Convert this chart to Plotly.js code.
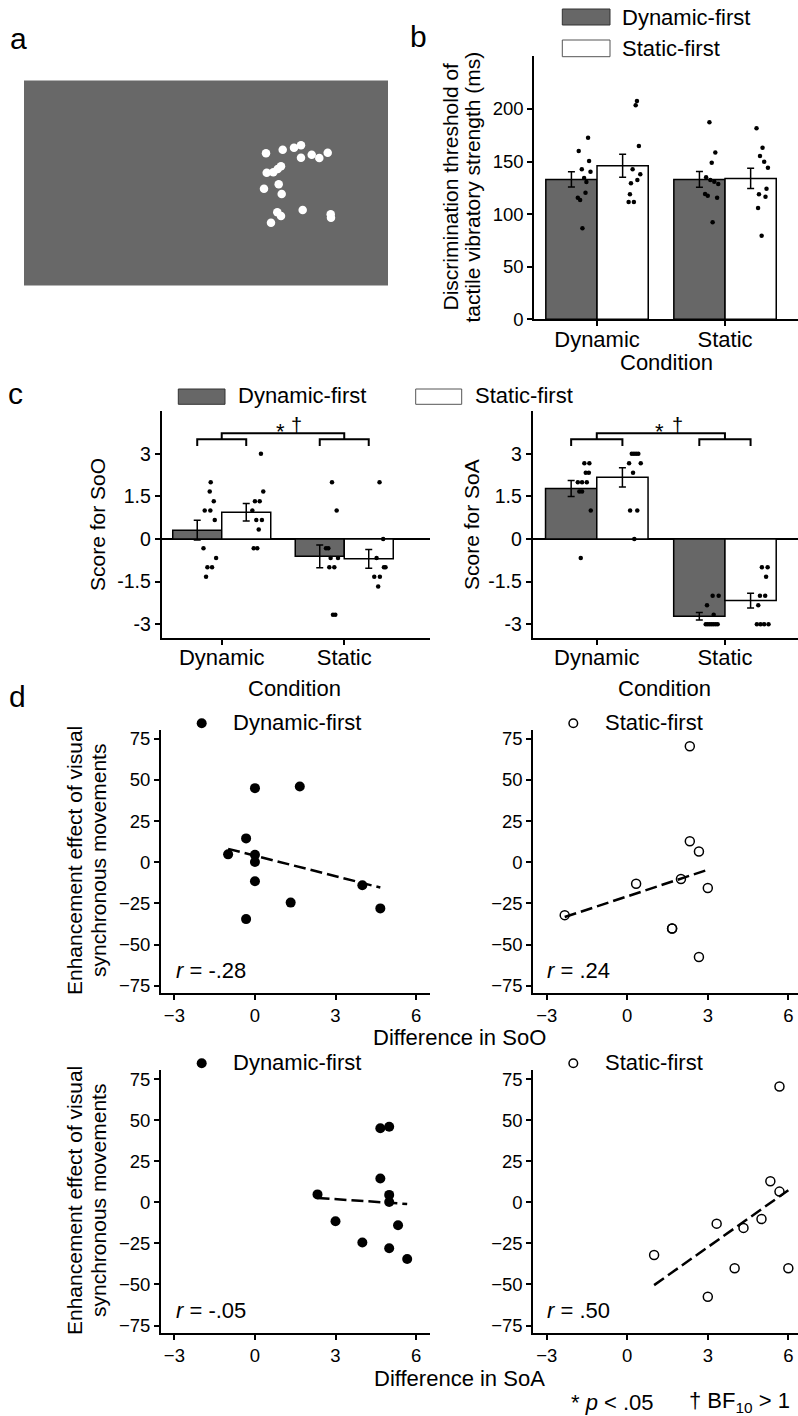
<!DOCTYPE html>
<html><head><meta charset="utf-8">
<script src="https://cdn.plot.ly/plotly-3.0.1.min.js"></script>
<style>html,body{margin:0;padding:0;background:#fff;}#chart{width:798px;height:1416px;}</style>
</head><body><div id="chart"></div>
<script>
// ---------------- DATA ----------------
const conditions = ['Dynamic', 'Static'];
const groupNames = ['Dynamic-first', 'Static-first'];

// Panel a: stimulus dot positions (stimulus frame units, origin top-left)
const stimDotX = [242,258.7,270,277,277,287.7,295.3,303.7,242.7,249.3,253.7,257,240,254.7,257.7,253.3,257,247,278.7,306.7,307];
const stimDotY = [72.8,69.2,67.2,64.8,77.2,74.2,77.5,72.2,92.2,91.8,88.5,85.8,108.2,103.8,113.5,131.8,135.5,142.2,129.5,133.8,137.2];

// Panel b: discrimination threshold (ms)
const thrMeanDynFirst = [133, 133];
const thrSeDynFirst = [7.3, 7.5];
const thrMeanStaFirst = [146, 134];
const thrSeStaFirst = [11, 9.7];
const thrDynFirstDynamic = [172.7,160,150.5,142.6,140.4,134.4,130.6,120.4,115.7,113.5,86.5];
const thrDynFirstDynamicJit = [-0.07,-0.143,-0.062,-0.119,-0.051,-0.101,-0.083,-0.09,-0.15,-0.132,-0.114];
const thrStaFirstDynamic = [207.6,203.5,164.8,142.6,137.9,132.5,129.3,118.9,111.6,111.6];
const thrStaFirstDynamicJit = [0.312,0.302,0.327,0.278,0.338,0.315,0.265,0.257,0.247,0.288];
const thrDynFirstStatic = [187.3,158.5,148.9,135,132.5,130.9,128.7,119.2,117.6,115.7,92.2];
const thrDynFirstStaticJit = [-0.122,-0.076,-0.104,-0.148,-0.115,-0.084,-0.053,-0.156,-0.135,-0.062,-0.097];
const thrStaFirstStatic = [181.6,163.2,155.3,149.9,144.2,124.2,118.9,116.6,105.8,79.5];
const thrStaFirstStaticJit = [0.246,0.293,0.273,0.306,0.335,0.324,0.265,0.316,0.258,0.286];

// Panel c: Score for SoO
const sooMeanDynFirst = [0.31, -0.61];
const sooSeDynFirst = [0.35, 0.4];
const sooMeanStaFirst = [0.94, -0.7];
const sooSeStaFirst = [0.31, 0.33];
const sooDynFirstDynamic = [2,1.67,1.33,1,1,0.67,-0.33,-0.67,-1,-1,-1.33];
const sooDynFirstDynamicJit = [-0.09,-0.098,-0.065,-0.139,-0.093,-0.057,-0.149,-0.046,-0.117,-0.079,-0.128];
const sooStaFirstDynamic = [3,1.67,1.33,1.33,1,0.67,0.67,0.33,-0.33,-0.33];
const sooStaFirstDynamicJit = [0.32,0.339,0.271,0.31,0.25,0.282,0.328,0.302,0.261,0.29];
const sooDynFirstStatic = [2,1,-0.33,-0.33,-0.67,-0.67,-1,-1,-2.67,-2.67];
const sooDynFirstStaticJit = [-0.1,-0.062,-0.149,-0.13,-0.111,-0.051,-0.122,-0.081,-0.092,-0.073];
const sooStaFirstStatic = [2,0,-0.67,-1,-1,-1.33,-1.33,-1.67];
const sooStaFirstStaticJit = [0.288,0.318,0.264,0.324,0.337,0.245,0.291,0.277];

// Panel c: Score for SoA
const soaMeanDynFirst = [1.78, -2.72];
const soaSeDynFirst = [0.28, 0.13];
const soaMeanStaFirst = [2.17, -2.17];
const soaSeStaFirst = [0.34, 0.26];
const soaDynFirstDynamic = [2.67,2.67,2.33,2.33,2,2,2,1.67,1.67,1,-0.67];
const soaDynFirstDynamicJit = [-0.097,-0.058,-0.086,-0.062,-0.148,-0.115,-0.078,-0.136,-0.115,-0.047,-0.125];
const soaStaFirstDynamic = [3,3,3,3,2.67,2.67,2.33,1,1,0];
const soaStaFirstDynamicJit = [0.273,0.29,0.307,0.324,0.252,0.343,0.283,0.26,0.316,0.293];
const soaDynFirstStatic = [-2,-2,-2.33,-2.67,-3,-3,-3,-3,-3,-3,-3];
const soaDynFirstStaticJit = [-0.096,-0.049,-0.14,-0.088,-0.15,-0.135,-0.12,-0.105,-0.09,-0.073,-0.057];
const soaStaFirstStatic = [-1,-1,-1.33,-2,-2,-2.33,-3,-3,-3,-3];
const soaStaFirstStaticJit = [0.288,0.333,0.321,0.273,0.314,0.26,0.249,0.278,0.306,0.34];

// Panel d: enhancement effect vs. differences
const enhDynFirst = [45,46,14.5,4.8,4.5,0.2,-11.5,-24.5,-34.5,-14,-28];
const diffSoODynFirst = [0,1.67,-0.33,-1,0,0,0,1.33,-0.33,4,4.67];
const diffSoADynFirst = [4.67,5,4.67,2.33,5,5,3,4,5.67,5.33,5];
const enhStaFirst = [70.5,12.8,6.5,-13,-10.2,-15.6,-32.1,-40.2,-40.2,-57.5];
const diffSoOStaFirst = [2.33,2.33,2.67,0.33,2,3,-2.33,1.67,1.67,2.67];
const diffSoAStaFirst = [5.67,5.33,5.67,3.33,5,4.33,1,4,6,3];
const rLabels = ['-.28', '.24', '-.05', '.50'];

// ---------------- HELPERS ----------------
const W = 798, H = 1416;
const FONT = 'Liberation Sans, Arial, Helvetica, sans-serif';
const DARK = '#676767';
const fx = p => p / W;
const fy = p => 1 - p / H;
const domX = (a, b) => [fx(a), fx(b)];
const domY = (top, bottom) => [fy(bottom), fy(top)];

function ols(xs, ys) {
  const n = xs.length;
  const mx = xs.reduce((a, b) => a + b, 0) / n;
  const my = ys.reduce((a, b) => a + b, 0) / n;
  let sxy = 0, sxx = 0;
  for (let i = 0; i < n; i++) { sxy += (xs[i] - mx) * (ys[i] - my); sxx += (xs[i] - mx) ** 2; }
  const b = sxy / sxx, a = my - b * mx;
  const x0 = Math.min(...xs), x1 = Math.max(...xs);
  return { x: [x0, x1], y: [a + b * x0, a + b * x1] };
}
const shift = (jit, c) => jit.map(j => c + j);

const traces = [];

// Panel a
traces.push({ type: 'scatter', mode: 'markers', x: stimDotX, y: stimDotY, xaxis: 'x', yaxis: 'y',
  marker: { color: '#ffffff', size: 8.5 }, hoverinfo: 'skip' });

// bar panels
function barPanel(xa, ya, mDyn, sDyn, mSta, sSta, pts) {
  const eb = { type: 'data', color: '#000', thickness: 1.5, width: 3.5 };
  traces.push({ type: 'bar', x: [0, 1], y: mDyn, xaxis: xa, yaxis: ya, name: groupNames[0],
    marker: { color: DARK, line: { color: '#000', width: 1.5 } }, error_y: Object.assign({ array: sDyn }, eb) });
  traces.push({ type: 'bar', x: [0, 1], y: mSta, xaxis: xa, yaxis: ya, name: groupNames[1],
    marker: { color: '#ffffff', line: { color: '#000', width: 1.5 } }, error_y: Object.assign({ array: sSta }, eb) });
  pts.forEach(p => {
    traces.push({ type: 'scatter', mode: 'markers', x: shift(p[1], p[2]), y: p[0], xaxis: xa, yaxis: ya,
      marker: { color: '#000', size: 4.5 }, hoverinfo: 'skip' });
  });
}
barPanel('x2', 'y2', thrMeanDynFirst, thrSeDynFirst, thrMeanStaFirst, thrSeStaFirst, [
  [thrDynFirstDynamic, thrDynFirstDynamicJit, 0], [thrStaFirstDynamic, thrStaFirstDynamicJit, 0],
  [thrDynFirstStatic, thrDynFirstStaticJit, 1], [thrStaFirstStatic, thrStaFirstStaticJit, 1]]);
barPanel('x3', 'y3', sooMeanDynFirst, sooSeDynFirst, sooMeanStaFirst, sooSeStaFirst, [
  [sooDynFirstDynamic, sooDynFirstDynamicJit, 0], [sooStaFirstDynamic, sooStaFirstDynamicJit, 0],
  [sooDynFirstStatic, sooDynFirstStaticJit, 1], [sooStaFirstStatic, sooStaFirstStaticJit, 1]]);
barPanel('x4', 'y4', soaMeanDynFirst, soaSeDynFirst, soaMeanStaFirst, soaSeStaFirst, [
  [soaDynFirstDynamic, soaDynFirstDynamicJit, 0], [soaStaFirstDynamic, soaStaFirstDynamicJit, 0],
  [soaDynFirstStatic, soaDynFirstStaticJit, 1], [soaStaFirstStatic, soaStaFirstStaticJit, 1]]);

// scatter panels
function scatterPanel(xa, ya, xs, ys, filled) {
  const f = ols(xs, ys);
  traces.push({ type: 'scatter', mode: 'lines', x: f.x, y: f.y, xaxis: xa, yaxis: ya,
    line: { color: '#000', width: 2.5, dash: '12px,5px' }, hoverinfo: 'skip' });
  traces.push({ type: 'scatter', mode: 'markers', x: xs, y: ys, xaxis: xa, yaxis: ya, hoverinfo: 'skip',
    marker: filled ? { color: '#000', size: 10 } : { color: 'rgba(255,255,255,0)', size: 9, line: { color: '#000', width: 1.5 } } });
}
scatterPanel('x5', 'y5', diffSoODynFirst, enhDynFirst, true);
scatterPanel('x6', 'y6', diffSoOStaFirst, enhStaFirst, false);
scatterPanel('x7', 'y7', diffSoADynFirst, enhDynFirst, true);
scatterPanel('x8', 'y8', diffSoAStaFirst, enhStaFirst, false);

// ---------------- AXES ----------------
const base = { showline: true, linecolor: '#000', linewidth: 2, ticks: 'outside', ticklen: 5, tickwidth: 2,
  tickcolor: '#000', showgrid: false, zeroline: false, tickfont: { size: 18.5, color: '#000', family: FONT }, fixedrange: true };
const catX = (dom, range, anchor) => Object.assign({}, base, { domain: dom, range: range, anchor: anchor,
  tickvals: [0, 1], ticktext: conditions, ticklabelstandoff: -6, tickfont: { size: 22, color: '#000', family: FONT } });
const scX = (dom, anchor) => Object.assign({}, base, { domain: dom, anchor: anchor, tickvals: [-3, 0, 3, 6] });
const scY = (dom, anchor) => Object.assign({}, base, { domain: dom, anchor: anchor, range: [-79.5, 80.5],
  tickvals: [-75, -50, -25, 0, 25, 50, 75] });
const cY = (dom, anchor) => Object.assign({}, base, { domain: dom, anchor: anchor, range: [-3.47, 4.5],
  tickvals: [-3, -1.5, 0, 1.5, 3], ticktext: ['-3', '-1.5', '0', '1.5', '3'],
  tickfont: { size: 19.5, color: '#000', family: FONT },
  zeroline: true, zerolinecolor: '#000', zerolinewidth: 2 });

const layout = {
  width: W, height: H, margin: { l: 0, r: 0, t: 0, b: 0 }, showlegend: false,
  paper_bgcolor: '#fff', plot_bgcolor: 'rgba(0,0,0,0)',
  font: { family: FONT, color: '#000', size: 18 },
  barmode: 'group', bargap: 0.2, bargroupgap: 0,
  xaxis: { domain: domX(24, 388), range: [0, 364], visible: false, anchor: 'y', fixedrange: true },
  yaxis: { domain: domY(80.5, 285.5), range: [205, 0], visible: false, anchor: 'x', fixedrange: true },
  xaxis2: catX(domX(534.3, 798), [-0.49, 1.57], 'y2'),
  yaxis2: Object.assign({}, base, { domain: domY(56.4, 319.3), range: [0, 250], anchor: 'x2', tickvals: [0, 50, 100, 150, 200] }),
  xaxis3: catX(domX(161.7, 430), [-0.49, 1.7], 'y3'),
  yaxis3: cY(domY(411.2, 637.5), 'x3'),
  xaxis4: catX(domX(532.7, 798), [-0.5, 1.57], 'y4'),
  yaxis4: cY(domY(411.2, 637.5), 'x4'),
  xaxis5: Object.assign(scX(domX(161, 430), 'y5'), { range: [-3.5, 6.52] }),
  yaxis5: scY(domY(729.7, 993.2), 'x5'),
  xaxis6: Object.assign(scX(domX(533.3, 798), 'y6'), { range: [-3.5, 6.36] }),
  yaxis6: scY(domY(729.7, 993.2), 'x6'),
  xaxis7: Object.assign(scX(domX(161, 430), 'y7'), { range: [-3.5, 6.52] }),
  yaxis7: scY(domY(1070, 1332.9), 'x7'),
  xaxis8: Object.assign(scX(domX(533.3, 798), 'y8'), { range: [-3.5, 6.36] }),
  yaxis8: scY(domY(1070, 1332.9), 'x8'),
};

// ---------------- SHAPES ----------------
const rectPx = (x0, y0, x1, y1, fill, lc, lw, layer) => ({ type: 'rect', xref: 'paper', yref: 'paper',
  x0: fx(x0), x1: fx(x1), y0: fy(y1), y1: fy(y0), fillcolor: fill, line: { color: lc, width: lw }, layer: layer || 'above' });
const circPx = (cx, cy, r, fill, lw) => ({ type: 'circle', xref: 'paper', yref: 'paper',
  x0: fx(cx - r), x1: fx(cx + r), y0: fy(cy + r), y1: fy(cy - r), fillcolor: fill, line: { color: '#000', width: lw } });
const shapes = [
  rectPx(24, 80.5, 388, 285.5, '#686868', '#686868', 0, 'below'),
  rectPx(562.3, 9, 610, 25, DARK, '#333', 1),
  rectPx(562.3, 40, 610, 56.7, '#fff', '#555', 1),
  rectPx(178.3, 389, 225, 404.3, DARK, '#333', 1),
  rectPx(415.7, 389, 461.7, 404.3, '#fff', '#555', 1),
  circPx(201.7, 723.3, 5, '#000', 0),
  circPx(573.3, 723.3, 4.3, 'rgba(0,0,0,0)', 1.5),
  circPx(201.7, 1063.3, 5, '#000', 0),
  circPx(573.3, 1063.3, 4.3, 'rgba(0,0,0,0)', 1.5),
];
['3', '4'].forEach(k => {
  const r = { xref: 'x' + k, yref: 'y' + k, type: 'path', line: { color: '#000', width: 2 } };
  shapes.push(Object.assign({}, r, { path: 'M -0.2,3.27 L -0.2,3.51 L 0.2,3.51 L 0.2,3.27' }));
  shapes.push(Object.assign({}, r, { path: 'M 0.8,3.27 L 0.8,3.51 L 1.2,3.51 L 1.2,3.27' }));
  shapes.push(Object.assign({}, r, { path: 'M 0,3.51 L 0,3.72 L 1,3.72 L 1,3.51' }));
});
layout.shapes = shapes;

// ---------------- ANNOTATIONS ----------------
function ann(text, x, y, o) {
  return Object.assign({ xref: 'paper', yref: 'paper', x: fx(x), y: fy(y), text: text, showarrow: false,
    xanchor: 'left', yanchor: 'middle', font: { size: 22, color: '#000', family: FONT } }, o || {});
}
const big = { font: { size: 30, color: '#000', family: FONT } };
const vt = { textangle: -90, xanchor: 'center', font: { size: 21, color: '#000', family: FONT } };
const ctr = { xanchor: 'center' };
const annotations = [
  ann('a', 8, 38, big), ann('b', 408, 36, big), ann('c', 6, 393, big), ann('d', 7, 696, big),
  ann(groupNames[0], 620, 17), ann(groupNames[1], 620, 48),
  ann('Discrimination threshold of', 449.5, 187, vt), ann('tactile vibratory strength (ms)', 471.5, 187, vt),
  ann('Condition', 666, 362, ctr),
  ann(groupNames[0], 236, 396), ann(groupNames[1], 473, 396),
  ann('Score for SoO', 97, 525, vt), ann('Score for SoA', 471, 525, vt),
  ann('Condition', 294, 688, ctr), ann('Condition', 664, 688, ctr),
  ann(groupNames[0], 231, 722), ann(groupNames[1], 603, 722),
  ann(groupNames[0], 231, 1062), ann(groupNames[1], 603, 1062),
  ann('Enhancement effect of visual', 74, 861, vt), ann('synchronous movements', 98, 861, vt),
  ann('Enhancement effect of visual', 74, 1201, vt), ann('synchronous movements', 98, 1201, vt),
  ann('<i>r</i> = ' + rLabels[0], 174, 970), ann('<i>r</i> = ' + rLabels[1], 545, 970),
  ann('<i>r</i> = ' + rLabels[2], 174, 1310), ann('<i>r</i> = ' + rLabels[3], 545, 1310),
  ann('Difference in SoO', 459, 1037, ctr), ann('Difference in SoA', 459, 1378, ctr),
  ann('* <i>p</i> &lt; .05', 569, 1402), ann('† BF<sub>10</sub> &gt; 1', 687, 1402),
];
[['3', 0.48, 0.61], ['4', 0.49, 0.63]].forEach(k => {
  annotations.push({ xref: 'x' + k[0], yref: 'y' + k[0], x: k[1], y: 3.8, yanchor: 'middle', xanchor: 'center',
    text: '*', showarrow: false, font: { size: 22, color: '#000', family: FONT } });
  annotations.push({ xref: 'x' + k[0], yref: 'y' + k[0], x: k[2], y: 4.02, yanchor: 'middle', xanchor: 'center',
    text: '†', showarrow: false, font: { size: 20, color: '#000', family: FONT } });
});
layout.annotations = annotations;

Plotly.newPlot('chart', traces, layout, { displayModeBar: false, staticPlot: true });
</script>
</body></html>
